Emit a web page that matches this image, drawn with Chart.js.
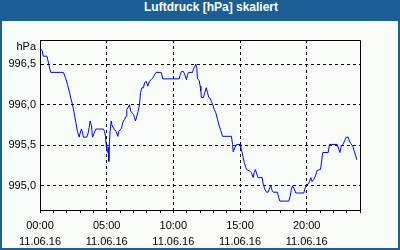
<!DOCTYPE html>
<html>
<head>
<meta charset="utf-8">
<script src="https://cdn.jsdelivr.net/npm/chart.js@4/dist/chart.umd.min.js"></script>
<style>
  html, body { margin: 0; padding: 0; background: #ffffff; }
  #wrap { position: relative; width: 400px; height: 250px; background: #1b5e94; overflow: hidden; }
  #title { position: absolute; left: 0; top: 0; width: 422px; height: 21px; line-height: 21px;
           text-align: center; color: #ffffff; font: bold 12px "Liberation Sans", Arial, sans-serif; }
  #plot { position: absolute; left: 2px; top: 21px; width: 396px; height: 227px; background: #f8fcf8; }
  canvas { display: block; }
</style>
</head>
<body>
<div id="wrap">
  <div id="title">Luftdruck [hPa] skaliert</div>
  <div id="plot"><canvas id="c" width="396" height="227"></canvas></div>
</div>
<script>
// Time of day in hours (11.06.16)
const hours = [0, 0.16, 0.24, 0.52, 0.66, 0.8, 1.76, 1.94, 2.06, 2.19, 2.31, 2.44, 2.56, 2.69, 2.81, 2.94,
  3.01, 3.11, 3.19, 3.26, 3.51, 3.61, 3.69, 3.76, 3.86, 3.94, 4.06, 4.19, 4.76, 4.84, 4.91, 4.96,
  5.01, 5.09, 5.14, 5.16, 5.21, 5.26, 5.34, 5.41, 5.59, 5.71, 5.84, 5.91, 6.01, 6.11, 6.21, 6.34,
  6.46, 6.51, 6.71, 6.81, 6.91, 7.01, 7.09, 7.16, 7.26, 7.36, 7.46, 7.54, 7.64, 7.76, 7.84, 7.96,
  8.09, 8.21, 8.34, 8.46, 8.59, 8.71, 9.09, 9.21, 10.44, 10.51, 10.61, 10.76, 10.86, 10.99, 11.06,
  11.14, 11.44, 11.51, 11.69, 11.76, 11.81, 11.94, 12.01, 12.06, 12.11, 12.26, 12.36, 12.47, 12.56,
  12.66, 12.76, 12.86, 12.96, 13.07, 13.19, 13.31, 13.44, 13.56, 13.69, 14.36, 14.44, 14.49, 14.61,
  14.74, 15.0, 15.06, 15.16, 15.24, 15.31, 15.41, 15.49, 15.74, 15.86, 15.99, 16.06, 16.16, 16.26,
  16.36, 16.66, 16.74, 16.86, 16.99, 17.11, 17.24, 17.31, 17.41, 17.49, 17.81, 17.91, 17.99, 18.66,
  18.76, 18.86, 18.94, 19.06, 19.19, 19.79, 19.86, 19.96, 20.11, 20.21, 20.31, 20.41, 20.54, 20.66,
  20.79, 21.04, 21.11, 21.21, 21.61, 21.71, 22.29, 22.41, 22.49, 22.59, 22.71, 22.84, 22.96, 23.11,
  23.21, 23.31, 23.46, 23.56, 23.66, 23.76];

// Air pressure in hPa
const pressure = [996.70, 996.67, 996.60, 996.60, 996.50, 996.40, 996.40, 996.32, 996.25, 996.17, 996.08,
  996.00, 995.90, 995.78, 995.67, 995.60, 995.65, 995.70, 995.65, 995.60, 995.60, 995.65, 995.72, 995.80,
  995.74, 995.60, 995.65, 995.70, 995.70, 995.67, 995.61, 995.51, 995.43, 995.41, 995.47, 995.30, 995.55,
  995.67, 995.80, 995.74, 995.69, 995.67, 995.61, 995.67, 995.69, 995.71, 995.78, 995.82, 995.86, 995.94,
  996.00, 995.92, 995.90, 995.88, 995.84, 995.80, 995.86, 995.92, 996.00, 996.15, 996.21, 996.21, 996.27,
  996.29, 996.23, 996.29, 996.31, 996.33, 996.37, 996.40, 996.40, 996.32, 996.32, 996.37, 996.41, 996.41,
  996.37, 996.31, 996.37, 996.40, 996.40, 996.44, 996.50, 996.45, 996.32, 996.30, 996.23, 996.17, 996.09,
  996.09, 996.15, 996.21, 996.15, 996.09, 996.08, 996.04, 996.00, 995.94, 995.90, 995.82, 995.74, 995.68,
  995.61, 995.61, 995.51, 995.42, 995.47, 995.51, 995.51, 995.47, 995.41, 995.35, 995.29, 995.24, 995.20,
  995.18, 995.16, 995.10, 995.16, 995.20, 995.14, 995.10, 995.10, 995.02, 994.96, 994.92, 994.92, 994.98,
  995.00, 994.94, 994.92, 994.92, 994.85, 994.81, 994.81, 994.87, 994.96, 995.00, 994.96, 994.91, 994.91,
  994.96, 995.00, 995.02, 995.05, 995.10, 995.05, 995.08, 995.12, 995.19, 995.20, 995.29, 995.41, 995.41,
  995.51, 995.51, 995.45, 995.41, 995.49, 995.51, 995.55, 995.60, 995.60, 995.55, 995.52, 995.49, 995.43,
  995.38, 995.32];

// Axis ticks
const yTicks = [995.0, 995.5, 996.0, 996.5];
const yUnit = 'hPa';
const xMinorTicks = [0,1,2,3,4,5,6,7,8,9,10,11,12,13,14,15,16,17,18,19,20,21,22,23,24];
const xLabelHours = [0, 5, 10, 15, 20];
const xTimeLabels = ['00:00', '05:00', '10:00', '15:00', '20:00'];
const dateLabel = '11.06.16';

const FONT = '"Liberation Sans", Arial, sans-serif';

const framePlugin = {
  id: 'frame',
  afterDraw(chart) {
    const { ctx, chartArea: a } = chart;
    ctx.save();
    ctx.strokeStyle = '#000000';
    ctx.lineWidth = 1;
    ctx.beginPath();
    ctx.moveTo(Math.round(a.left) + 0.5, Math.round(a.top) + 0.5);
    ctx.lineTo(Math.round(a.right) + 0.5, Math.round(a.top) + 0.5);
    ctx.lineTo(Math.round(a.right) + 0.5, Math.round(a.bottom) + 0.5);
    ctx.stroke();
    ctx.fillStyle = '#000000';
    ctx.font = '11px ' + FONT;
    ctx.textAlign = 'right';
    ctx.textBaseline = 'middle';
    ctx.fillText(yUnit, a.left - 4, a.top + 7);
    ctx.restore();
  }
};

new Chart(document.getElementById('c'), {
  type: 'line',
  data: {
    datasets: [{
      data: hours.map((h, i) => ({ x: h, y: pressure[i] })),
      borderColor: '#0000ff',
      borderWidth: 1,
      pointRadius: 0,
      tension: 0,
      fill: false
    }]
  },
  options: {
    responsive: false,
    animation: false,
    layout: { padding: { top: 19, right: 38, left: 0, bottom: 0 } },
    plugins: { legend: { display: false }, tooltip: { enabled: false }, title: { display: false } },
    scales: {
      x: {
        type: 'linear',
        min: 0, max: 24,
        afterBuildTicks: (s) => { s.ticks = xMinorTicks.map(v => ({ value: v })); },
        afterFit: (s) => { s.height = 38; },
        ticks: {
          autoSkip: false, maxRotation: 0, minRotation: 0,
          padding: 5,
          color: '#000000',
          font: { family: FONT, size: 11, lineHeight: 1.45 },
          callback: (v) => {
            const i = xLabelHours.indexOf(v);
            return i >= 0 ? [xTimeLabels[i], dateLabel] : '';
          }
        },
        grid: {
          color: (ctx) => (ctx.tick && xLabelHours.includes(ctx.tick.value) && ctx.tick.value !== 0) ? '#000000' : 'rgba(0,0,0,0)',
          lineWidth: 1,
          drawTicks: true,
          tickLength: 3,
          tickColor: '#000000'
        },
        border: { display: true, color: '#000000', width: 1, dash: [3, 3] }
      },
      y: {
        min: 994.7, max: 996.8,
        afterBuildTicks: (s) => { s.ticks = yTicks.map(v => ({ value: v })); },
        afterFit: (s) => { s.width = 38; },
        ticks: {
          padding: 4,
          color: '#000000',
          font: { family: FONT, size: 11 },
          callback: (v) => v.toFixed(1).replace('.', ',')
        },
        grid: { color: '#000000', lineWidth: 1, drawTicks: false },
        border: { display: true, color: '#000000', width: 1, dash: [3, 3] }
      }
    }
  },
  plugins: [framePlugin]
});
</script>
</body>
</html>
